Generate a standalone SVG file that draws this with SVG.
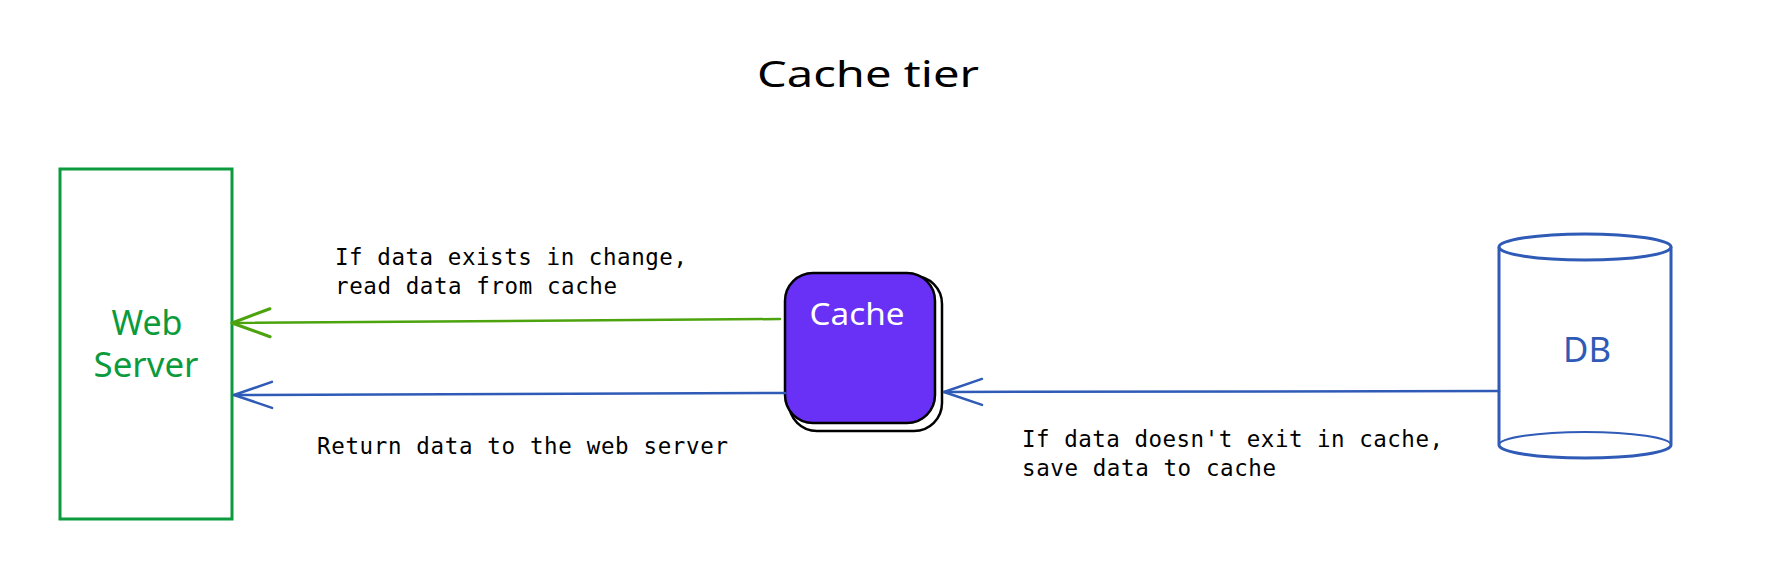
<svg xmlns="http://www.w3.org/2000/svg" width="1767" height="585" viewBox="0 0 1767 585">
  <style>
    .hand { font-family: "Noto Sans", "Liberation Sans", sans-serif; }
    .mono { font-family: "DejaVu Sans Mono", "Liberation Mono", monospace; font-size: 22.5px; fill: #000; }
    .conn { fill: none; stroke-width: 2.5; stroke-linecap: round; }
  </style>
  <defs>
    <marker id="arrowGreen" markerUnits="userSpaceOnUse" markerWidth="50" markerHeight="40" refX="45" refY="20" orient="auto" viewBox="0 0 50 40">
      <path d="M7,6 L45,20 L7,34" fill="none" stroke="#4ca30d" stroke-width="3" stroke-linecap="round" stroke-linejoin="round"/>
    </marker>
    <marker id="arrowBlue" markerUnits="userSpaceOnUse" markerWidth="50" markerHeight="40" refX="45" refY="20" orient="auto" viewBox="0 0 50 40">
      <path d="M7,7 L45,20 L7,33" fill="none" stroke="#2f5bb7" stroke-width="2.5" stroke-linecap="round" stroke-linejoin="round"/>
    </marker>
  </defs>
  <rect width="1767" height="585" fill="#ffffff"/>

  <g id="title">
    <text class="hand" x="868" y="87" font-size="36" text-anchor="middle" textLength="222" lengthAdjust="spacingAndGlyphs">Cache tier</text>
  </g>

  <g id="web-server">
    <rect x="60" y="169" width="172" height="350" fill="none" stroke="#0b9b3c" stroke-width="3"/>
    <text class="hand" x="147" y="335" font-size="34" fill="#0b9b3c" text-anchor="middle">Web</text>
    <text class="hand" x="146" y="377" font-size="34" fill="#0b9b3c" text-anchor="middle" textLength="105" lengthAdjust="spacingAndGlyphs">Server</text>
  </g>

  <g id="cache">
    <rect x="789" y="276" width="153" height="155" rx="28" fill="none" stroke="#000" stroke-width="2.5"/>
    <rect x="785" y="273" width="150" height="150" rx="28" fill="#6930f5" stroke="#000" stroke-width="2.5"/>
    <text class="hand" x="857" y="325" font-size="31" fill="#ffffff" text-anchor="middle" textLength="95" lengthAdjust="spacingAndGlyphs">Cache</text>
  </g>

  <g id="db">
    <path d="M1499,247 L1499,445 M1671,247 L1671,445" fill="none" stroke="#2f5bb7" stroke-width="3"/>
    <ellipse cx="1585" cy="247" rx="86" ry="13" fill="none" stroke="#2f5bb7" stroke-width="3"/>
    <path d="M1499,445 A86,13 0 0 0 1671,445" fill="none" stroke="#2f5bb7" stroke-width="3"/>
    <path d="M1499,445 A86,13 0 0 1 1671,445" fill="none" stroke="#2f5bb7" stroke-width="2"/>
    <text class="hand" x="1587" y="362" font-size="34" fill="#2f5bb7" text-anchor="middle" textLength="48" lengthAdjust="spacingAndGlyphs">DB</text>
  </g>

  <g id="connectors">
    <path class="conn" d="M780,319 L232,323" stroke="#4ca30d" stroke-width="3" marker-end="url(#arrowGreen)"/>
    <path class="conn" d="M785,393 L234,395" stroke="#2f5bb7" marker-end="url(#arrowBlue)"/>
    <path class="conn" d="M1499,391 L944,392" stroke="#2f5bb7" marker-end="url(#arrowBlue)"/>
  </g>

  <g id="labels">
    <text class="mono" x="335" y="265" textLength="352">If data exists in change,</text>
    <text class="mono" x="335" y="294" textLength="282">read data from cache</text>
    <text class="mono" x="317" y="454" textLength="411">Return data to the web server</text>
    <text class="mono" x="1022" y="447" textLength="421">If data doesn't exit in cache,</text>
    <text class="mono" x="1022" y="476" textLength="254">save data to cache</text>
  </g>
</svg>
